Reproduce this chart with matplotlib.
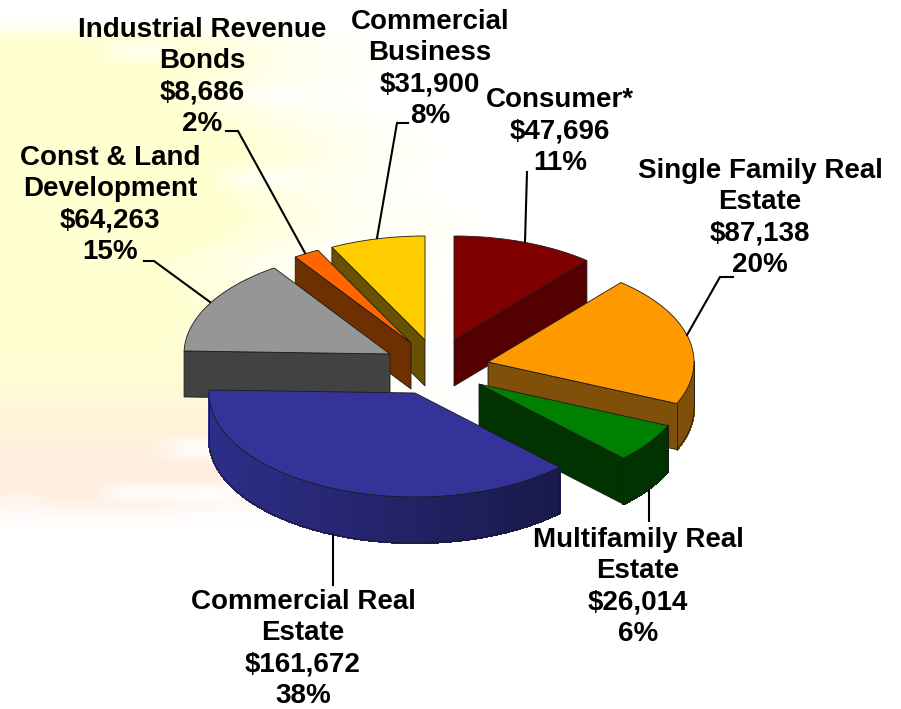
import numpy as np
import matplotlib
matplotlib.use("Agg")
import matplotlib.pyplot as plt
from matplotlib.patches import Polygon

plt.rcParams['font.family'] = ['Liberation Sans', 'DejaVu Sans']

# Data, clockwise from 12 o'clock
names = ['Consumer*', 'Single Family Real\nEstate', 'Multifamily Real\nEstate',
         'Commercial Real\nEstate', 'Const & Land\nDevelopment',
         'Industrial Revenue\nBonds', 'Commercial\nBusiness']
values = [47696, 87138, 26014, 161672, 64263, 8686, 31900]
percents = [11, 20, 6, 38, 15, 2, 8]

# Look of the slices
top_colors = ['#800000', '#FF9900', '#008000', '#333399', '#969696', '#FF6600', '#FFCC00']
side_colors = ['#550000', '#80500A', '#003300', '#2E2E8A', '#424242', '#6E3000', '#665200']
wall_fade = [0, 0, 0, 0.45, 0, 0, 0]
apex_x = [454, 488, 479, 415, 390, 411, 425]
apex_y = [340, 362, 384, 393, 354, 343, 340]
draw_order = [0, 6, 5, 4, 1, 2, 3]

# Label placement: centre x, baseline y of the first line
label_x = [560, 760, 638, 303, 110, 202, 430]
label_y = [107, 178, 547, 609, 165, 37, 29]
leaders = [
    [(527, 172), (525, 242)],
    [(733, 277), (720, 277), (687, 335)],
    [(649, 490), (649, 521)],
    [(333, 535), (333, 585)],
    [(144, 261), (154, 261), (210, 302)],
    [(226, 131), (238, 131), (305, 253)],
    [(408, 123), (397, 123), (377, 238)],
]

RX = 206
RY = 104
THICK = 46
W = 901
H = 709
LINE_H = 31.3


def smooth(a, lo, hi):
    t = np.clip((a - lo) / (hi - lo), 0, 1)
    return t * t * (3 - 2 * t)


def make_background():
    yy, xx = np.mgrid[0:H, 0:W].astype(float)
    wave = 35 * np.sin(yy / 38.0) + 20 * np.sin(yy / 13.0)
    strength = 1 - smooth(xx + wave, 100, 340)
    strength = strength + 0.2 * (1 - smooth(np.abs(xx - 420 + wave / 2), 10, 50)) * (1 - smooth(np.abs(yy - 270), 20, 90))
    strength = strength + 0.35 * (1 - smooth(xx + wave, 280, 440))
    strength = np.clip(strength, 0, 1)
    strength = strength * smooth(yy, 14, 45) * (1 - smooth(yy, 490, 527))
    # white streaks
    for x0, x1, yc, hh, amount in [(115, 175, 50, 9, 0.6), (225, 300, 178, 10, 0.5),
                                   (170, 260, 448, 10, 0.8), (110, 235, 492, 9, 0.8),
                                   (0, 40, 505, 14, 0.3), (250, 340, 95, 8, 0.5)]:
        bump = (1 - smooth(np.abs(yy - yc), hh * 0.4, hh * 1.6)) * smooth(xx, x0 - 25, x0 + 25) * (1 - smooth(xx, x1 - 25, x1 + 25))
        strength = strength * (1 - amount * bump)
    low = smooth(yy, 340, 480)
    yellow = np.array([255, 255, 210.0])
    peach = np.array([255, 238, 224.0])
    tint = yellow[None, None, :] * (1 - low[..., None]) + peach[None, None, :] * low[..., None]
    img = 255 + (tint - 255) * strength[..., None]
    return img / 255.0


def point(cx, cy, ang):
    return cx + RX * np.sin(ang), cy - RY * np.cos(ang)


fig = plt.figure(figsize=(W / 100, H / 100), dpi=100)
ax = fig.add_axes([0, 0, 1, 1])
ax.imshow(make_background(), extent=(0, W, H, 0), aspect='auto', zorder=0)
ax.set_xlim(0, W)
ax.set_ylim(H, 0)
ax.axis('off')

edges = np.cumsum([0] + values) / sum(values) * 2 * np.pi
EDGE = '#1a1a1a'

z = 2
for i in draw_order:
    a0, a1 = edges[i], edges[i + 1]
    cx, cy = apex_x[i], apex_y[i]
    side = np.array(matplotlib.colors.to_rgb(side_colors[i]))

    # radial faces that look towards the viewer
    for ang, visible in [(a0, np.sin(a0) < -1e-6), (a1, np.sin(a1) > 1e-6)]:
        if visible:
            px, py = point(cx, cy, ang)
            ax.add_patch(Polygon([(cx, cy), (px, py), (px, py + THICK), (cx, cy + THICK)],
                                 facecolor=side_colors[i], edgecolor=EDGE, lw=0.6, zorder=z))

    # outer wall, front half only
    lo, hi = max(a0, np.pi / 2), min(a1, 3 * np.pi / 2)
    if hi > lo:
        angs = np.linspace(lo, hi, 90)
        xs, ys = point(cx, cy, angs)
        span = max(xs.max() - xs.min(), 1)
        for k in range(len(angs) - 1):
            f = 1 - wall_fade[i] * (xs[k] - xs.min()) / span
            c = np.clip(side * f, 0, 1)
            ax.add_patch(Polygon([(xs[k], ys[k]), (xs[k + 1], ys[k + 1]),
                                  (xs[k + 1], ys[k + 1] + THICK), (xs[k], ys[k] + THICK)],
                                 facecolor=c, edgecolor=c, lw=1.0, antialiased=False, zorder=z))
        ax.plot(xs, ys + THICK, color=EDGE, lw=0.6, zorder=z)
        ax.plot([xs[0], xs[0]], [ys[0], ys[0] + THICK], color=EDGE, lw=0.6, zorder=z)
        ax.plot([xs[-1], xs[-1]], [ys[-1], ys[-1] + THICK], color=EDGE, lw=0.6, zorder=z)

    # top face
    angs = np.linspace(a0, a1, 100)
    xs, ys = point(cx, cy, angs)
    top = [(cx, cy)] + list(zip(xs, ys))
    ax.add_patch(Polygon(top, closed=True, facecolor=top_colors[i], edgecolor=EDGE, lw=0.6, zorder=z))
    z += 1

# leader lines
for pts in leaders:
    ax.plot([p[0] for p in pts], [p[1] for p in pts], color='black', lw=1.5,
            solid_joinstyle='miter', zorder=20)

# labels
for i in range(len(names)):
    lines = names[i].split('\n') + ['${:,}'.format(values[i]), '{}%'.format(percents[i])]
    for n, line in enumerate(lines):
        ax.text(label_x[i], label_y[i] + n * LINE_H, line, ha='center', va='baseline',
                fontsize=20, fontweight='bold', color='black', zorder=30)

fig.savefig('out.png', dpi=100)
